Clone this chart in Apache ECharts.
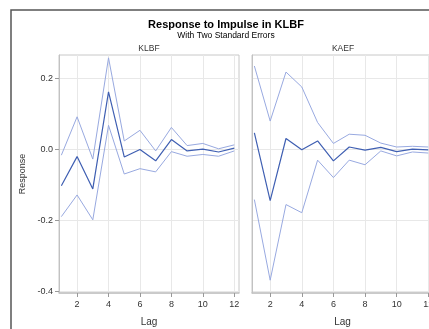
<!DOCTYPE html>
<html><head><meta charset="utf-8">
<script src="https://cdn.jsdelivr.net/npm/echarts@6/dist/echarts.min.js"></script>
<style>html,body{margin:0;padding:0;background:#fff}#c{width:429px;height:329px}</style>
</head><body><div id="c"></div>
<script>
var lags = [1,2,3,4,5,6,7,8,9,10,11,12];
var klbfResp  = [-0.103,-0.021,-0.112,0.161,-0.022,-0.001,-0.033,0.027,-0.005,0.000,-0.008,0.003];
var klbfUpper = [-0.017,0.091,-0.028,0.257,0.023,0.053,-0.005,0.061,0.010,0.016,0.001,0.012];
var klbfLower = [-0.190,-0.129,-0.199,0.067,-0.070,-0.055,-0.064,-0.007,-0.020,-0.015,-0.020,-0.005];
var kaefResp  = [0.046,-0.145,0.030,-0.002,0.023,-0.033,0.006,-0.003,0.005,-0.007,0.000,-0.002];
var kaefUpper = [0.234,0.079,0.217,0.175,0.075,0.016,0.042,0.039,0.017,0.006,0.008,0.006];
var kaefLower = [-0.142,-0.369,-0.156,-0.179,-0.031,-0.080,-0.031,-0.044,-0.005,-0.019,-0.008,-0.011];
var xTicks = [2,4,6,8,10,12];
var yTicks = [-0.4,-0.2,0,0.2];

function pairs(v){ return lags.map(function(l,i){return [l,v[i]];}); }
var FONT = '"Liberation Sans", Arial, sans-serif';
var mainColor = '#3f5fb2', ciColor = '#98a9e0';

function xAxis(idx){
  return {type:'value', gridIndex:idx, min:0.85, max:12.3, interval:2,
    name:'Lag', nameLocation:'middle', nameGap:24,
    nameTextStyle:{fontFamily:FONT,fontSize:10,color:'#333'},
    axisLine:{show:true,onZero:false,lineStyle:{color:'#c2c2c2',width:1.5}},
    axisTick:{show:true,length:4,customValues:xTicks,lineStyle:{color:'#999'}},
    axisLabel:{customValues:xTicks,fontFamily:FONT,fontSize:9,color:'#333',margin:7},
    splitLine:{show:true,lineStyle:{color:'#e8e8e8',width:1}}};
}
function yAxis(idx, labels){
  return {type:'value', gridIndex:idx, min:-0.405, max:0.265, interval:0.2,
    name: labels ? 'Response' : '', nameLocation:'middle', nameGap:32,
    nameTextStyle:{fontFamily:FONT,fontSize:9,color:'#333'},
    axisLine:{show:true,onZero:false,lineStyle:{color:'#c2c2c2',width:1}},
    axisTick:{show:labels,length:4,customValues:yTicks,lineStyle:{color:'#999'}},
    axisLabel:{show:labels,customValues:yTicks,fontFamily:FONT,fontSize:9,color:'#333',margin:6,
      formatter:function(v){return v.toFixed(1);}},
    splitLine:{show:true,lineStyle:{color:'#e8e8e8',width:1}}};
}
function line(idx, data, color, w, z){
  return {type:'line', xAxisIndex:idx, yAxisIndex:idx, data:pairs(data), symbol:'none',
    lineStyle:{color:color,width:w}, z:z, animation:false, silent:true};
}
var chart = echarts.init(document.getElementById('c'), null, {renderer:'canvas'});
chart.setOption({
  animation:false,
  backgroundColor:'#fff',
  title:[
    {text:'Response to Impulse in KLBF', left:226, top:19.5, textAlign:'center', padding:0,
     textStyle:{fontFamily:FONT,fontSize:11,fontWeight:'bold',color:'#000'}},
    {text:'With Two Standard Errors', left:226, top:31, textAlign:'center', padding:0,
     textStyle:{fontFamily:FONT,fontSize:8.5,fontWeight:'normal',color:'#000'}},
    {text:'KLBF', left:149, top:44, textAlign:'center', padding:0,
     textStyle:{fontFamily:FONT,fontSize:8.5,fontWeight:'normal',color:'#333'}},
    {text:'KAEF', left:343, top:44, textAlign:'center', padding:0,
     textStyle:{fontFamily:FONT,fontSize:8.5,fontWeight:'normal',color:'#333'}}
  ],
  grid:[
    {left:59, top:55, width:180, height:238, show:true, borderColor:'#c8c8c8', borderWidth:1,
     containLabel:false, outerBoundsMode:'none'},
    {left:252, top:55, width:181, height:238, show:true, borderColor:'#c8c8c8', borderWidth:1,
     containLabel:false, outerBoundsMode:'none'}
  ],
  xAxis:[xAxis(0), xAxis(1)],
  yAxis:[yAxis(0,true), yAxis(1,false)],
  series:[
    line(0, klbfUpper, ciColor, 1, 2),
    line(0, klbfLower, ciColor, 1, 2),
    line(0, klbfResp, mainColor, 1.2, 3),
    line(1, kaefUpper, ciColor, 1, 2),
    line(1, kaefLower, ciColor, 1, 2),
    line(1, kaefResp, mainColor, 1.2, 3)
  ],
  graphic:[
    {type:'rect', shape:{x:11, y:10, width:500, height:400}, style:{fill:'none', stroke:'#555', lineWidth:1.5}, silent:true, z:100}
  ]
});
</script></body></html>
